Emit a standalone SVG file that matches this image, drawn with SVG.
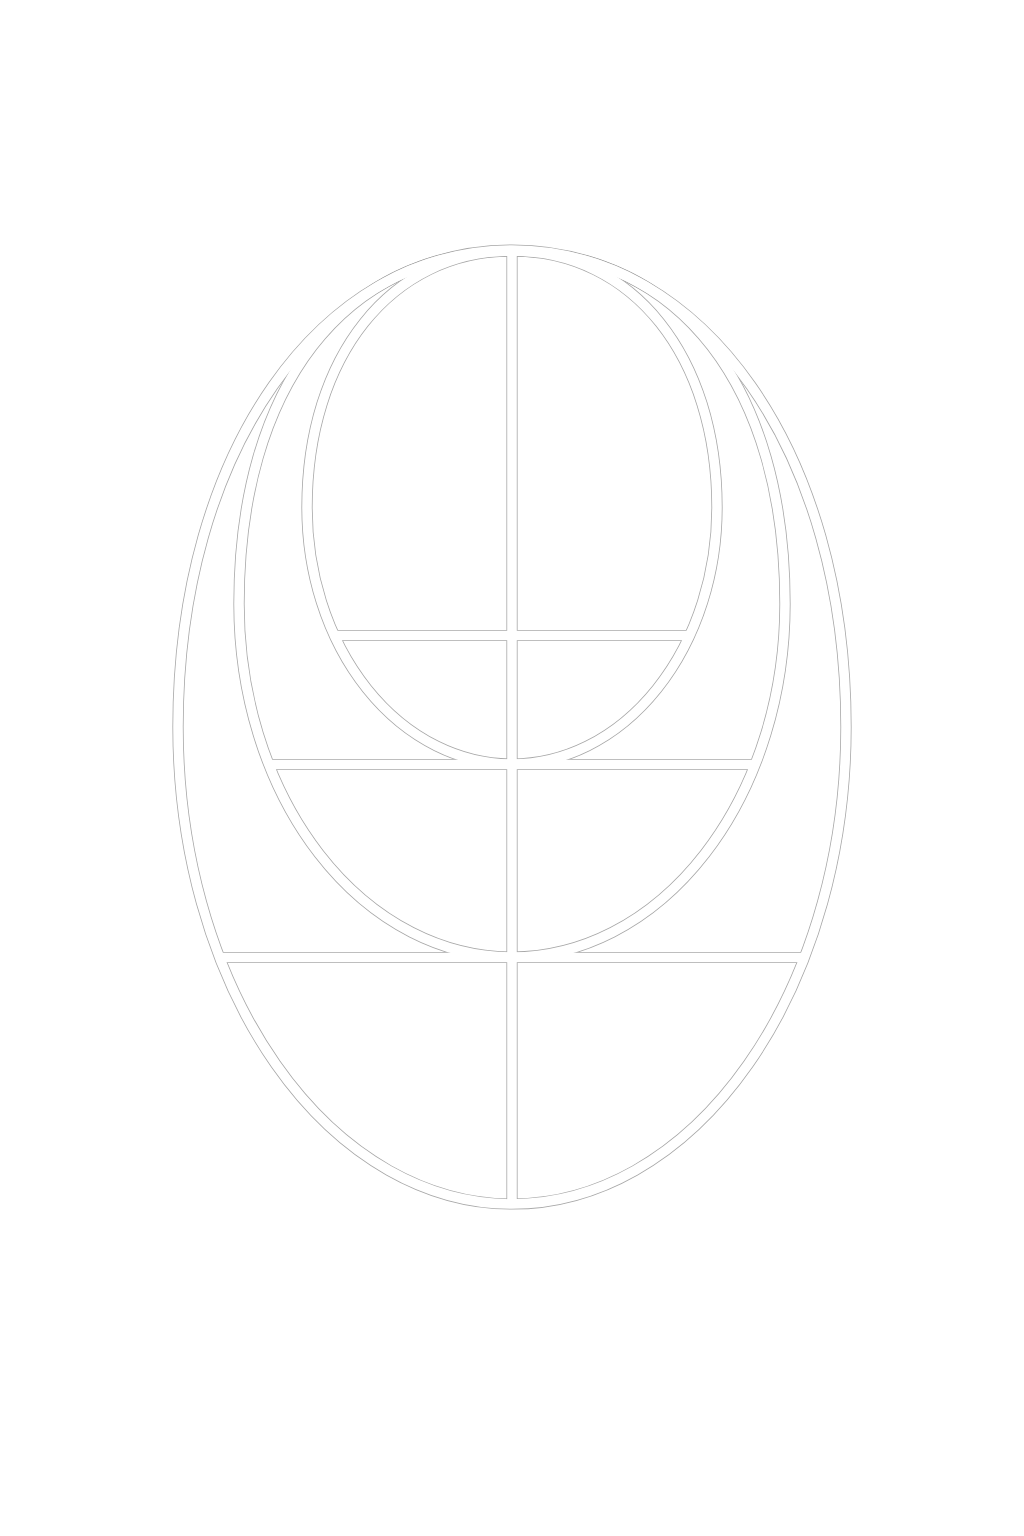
<svg xmlns="http://www.w3.org/2000/svg" xmlns:xlink="http://www.w3.org/1999/xlink" width="1024" height="1536" viewBox="0 0 1024 1536">
  <style>
    .edge { fill: none; stroke: #a8a8a8; stroke-width: 11.2; }
    .band { fill: none; stroke: #ffffff; stroke-width: 9.6; }
  </style>
  <defs>
    <g id="frame">
      <path id="outer-ellipse" d="M 512 250 C 320 250, 178 453, 178 727 A 334 477 0 0 0 846 727 C 846 453, 704 250, 512 250 Z"/>
      <path id="middle-ellipse" d="M 512 251 C 344 251, 239 387, 239 604 A 273 353 0 0 0 785 604 C 785 387, 680 251, 512 251 Z"/>
      <path id="inner-ellipse" d="M 512 251 C 391 251, 307 356.5, 307 507.5 A 205 256.5 0 0 0 717 507.5 C 717 356.5, 633 251, 512 251 Z"/>
      <line id="axis" x1="512" y1="251" x2="512" y2="1204"/>
      <line id="bar-1" x1="337" y1="635.5" x2="687" y2="635.5"/>
      <line id="bar-2" x1="270" y1="764.5" x2="754" y2="764.5"/>
      <line id="bar-3" x1="220" y1="957.5" x2="804" y2="957.5"/>
    </g>
  </defs>
  <rect width="1024" height="1536" fill="#ffffff"/>
  <g id="drawing">
    <use xlink:href="#frame" class="edge"/>
    <use xlink:href="#frame" class="band"/>
  </g>
</svg>
